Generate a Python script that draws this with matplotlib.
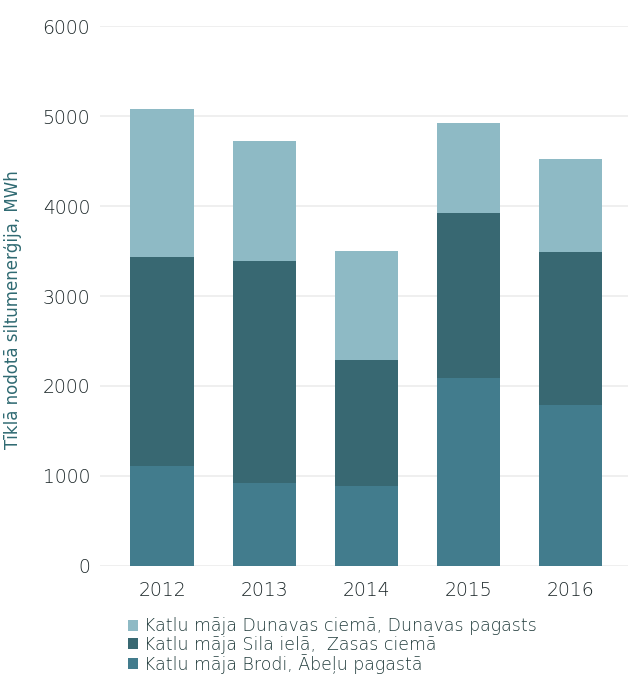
import matplotlib.pyplot as plt
import numpy as np

plt.rcParams['font.family'] = ['DejaVu Sans']
plt.rcParams['font.weight'] = 'light'

# Heat delivered to network per boiler house, MWh
years = ['2012', '2013', '2014', '2015', '2016']
brodi = [1110, 925, 890, 2085, 1790]
sila = [2320, 2465, 1400, 1840, 1700]
dunavas = [1645, 1330, 1210, 1000, 1035]

labels = ['Katlu māja Dunavas ciemā, Dunavas pagasts',
          'Katlu māja Sila ielā,  Zasas ciemā',
          'Katlu māja Brodi, Ābeļu pagastā']
colors = ['#8ebac5', '#386872', '#427c8d']
yticks = [0, 1000, 2000, 3000, 4000, 5000, 6000]

fig = plt.figure(figsize=(6.28, 6.86), dpi=100)
ax = fig.add_axes([0.159, 0.175, 0.841, 0.787])

x = np.arange(len(years))
w = 0.62
b1 = ax.bar(x, brodi, w, color=colors[2], label=labels[2])
b2 = ax.bar(x, sila, w, bottom=brodi, color=colors[1], label=labels[1])
b3 = ax.bar(x, dunavas, w, bottom=np.add(brodi, sila), color=colors[0], label=labels[0])

ax.set_xlim(-0.61, 4.56)
ax.set_ylim(0, 6000)
ax.set_yticks(yticks)
ax.set_xticks(x)
ax.set_xticklabels(years)
ax.tick_params(axis='both', length=0, labelsize=13.5, colors='#1c2729')
ax.tick_params(axis='x', pad=11)
ax.tick_params(axis='y', pad=7)
ax.grid(axis='y', color='#ececec', linewidth=1.2)
ax.set_axisbelow(True)
for s in ax.spines.values():
    s.set_visible(False)

ax.set_ylabel('Tīklā nodotā siltumenerģija, MWh', fontsize=12, color='#2f6a72')
ax.yaxis.set_label_coords(-0.148, 0.475)

fig.legend([b3, b2, b1], labels, loc='upper left', bbox_to_anchor=(0.19, 0.113),
           frameon=False, fontsize=12.5, labelcolor='#1f3a3a', borderpad=0,
           labelspacing=0.02, handlelength=0.6, handleheight=0.6, handletextpad=0.3)

fig.savefig('out.png', dpi=100)
